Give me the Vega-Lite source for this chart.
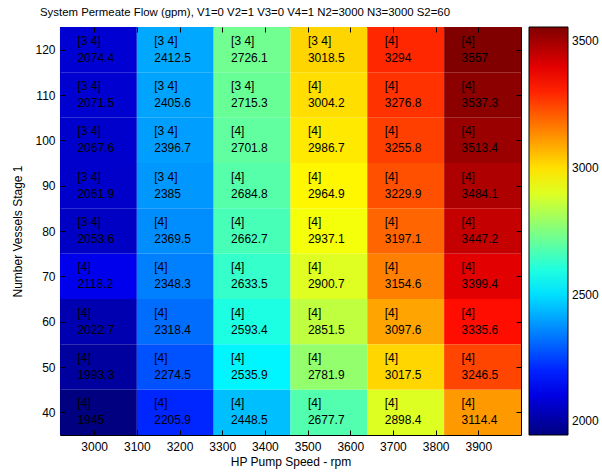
{
  "$schema": "https://vega.github.io/schema/vega-lite/v6.json",
  "autosize": "none",
  "padding": {"left": 60, "top": 27, "right": 81, "bottom": 41},
  "width": 461,
  "height": 408,
  "background": "white",
  "config": {
    "font": "Liberation Sans",
    "view": {"stroke": "black", "strokeWidth": 1},
    "axis": {"domain": false, "grid": false, "labelFontSize": 12, "labelColor": "black", "tickColor": "black", "tickWidth": 1, "tickOpacity": 1, "titleFontSize": 12, "titleFontWeight": "normal", "titleColor": "black", "tickSize": -5, "labelPadding": 11, "zindex": 2}
  },
  "title": {"text": "System Permeate Flow (gpm), V1=0 V2=1 V3=0 V4=1 N2=3000 N3=3000 S2=60", "anchor": "start", "frame": "group", "dx": -20, "fontSize": 11.4, "fontWeight": "normal", "color": "black", "offset": 8},
  "data": {"values": [
    {"speed": 3010, "vessels": 120, "config": "[3 4]", "flow": 2074.4},
    {"speed": 3190, "vessels": 120, "config": "[3 4]", "flow": 2412.5},
    {"speed": 3370, "vessels": 120, "config": "[3 4]", "flow": 2726.1},
    {"speed": 3550, "vessels": 120, "config": "[3 4]", "flow": 3018.5},
    {"speed": 3730, "vessels": 120, "config": "[4]", "flow": 3294},
    {"speed": 3910, "vessels": 120, "config": "[4]", "flow": 3557},
    {"speed": 3010, "vessels": 110, "config": "[3 4]", "flow": 2071.5},
    {"speed": 3190, "vessels": 110, "config": "[3 4]", "flow": 2405.6},
    {"speed": 3370, "vessels": 110, "config": "[3 4]", "flow": 2715.3},
    {"speed": 3550, "vessels": 110, "config": "[4]", "flow": 3004.2},
    {"speed": 3730, "vessels": 110, "config": "[4]", "flow": 3276.8},
    {"speed": 3910, "vessels": 110, "config": "[4]", "flow": 3537.3},
    {"speed": 3010, "vessels": 100, "config": "[3 4]", "flow": 2067.6},
    {"speed": 3190, "vessels": 100, "config": "[3 4]", "flow": 2396.7},
    {"speed": 3370, "vessels": 100, "config": "[4]", "flow": 2701.8},
    {"speed": 3550, "vessels": 100, "config": "[4]", "flow": 2986.7},
    {"speed": 3730, "vessels": 100, "config": "[4]", "flow": 3255.8},
    {"speed": 3910, "vessels": 100, "config": "[4]", "flow": 3513.4},
    {"speed": 3010, "vessels": 90, "config": "[3 4]", "flow": 2061.9},
    {"speed": 3190, "vessels": 90, "config": "[3 4]", "flow": 2385},
    {"speed": 3370, "vessels": 90, "config": "[4]", "flow": 2684.8},
    {"speed": 3550, "vessels": 90, "config": "[4]", "flow": 2964.9},
    {"speed": 3730, "vessels": 90, "config": "[4]", "flow": 3229.9},
    {"speed": 3910, "vessels": 90, "config": "[4]", "flow": 3484.1},
    {"speed": 3010, "vessels": 80, "config": "[3 4]", "flow": 2053.6},
    {"speed": 3190, "vessels": 80, "config": "[4]", "flow": 2369.5},
    {"speed": 3370, "vessels": 80, "config": "[4]", "flow": 2662.7},
    {"speed": 3550, "vessels": 80, "config": "[4]", "flow": 2937.1},
    {"speed": 3730, "vessels": 80, "config": "[4]", "flow": 3197.1},
    {"speed": 3910, "vessels": 80, "config": "[4]", "flow": 3447.2},
    {"speed": 3010, "vessels": 70, "config": "[4]", "flow": 2118.2},
    {"speed": 3190, "vessels": 70, "config": "[4]", "flow": 2348.3},
    {"speed": 3370, "vessels": 70, "config": "[4]", "flow": 2633.5},
    {"speed": 3550, "vessels": 70, "config": "[4]", "flow": 2900.7},
    {"speed": 3730, "vessels": 70, "config": "[4]", "flow": 3154.6},
    {"speed": 3910, "vessels": 70, "config": "[4]", "flow": 3399.4},
    {"speed": 3010, "vessels": 60, "config": "[4]", "flow": 2022.7},
    {"speed": 3190, "vessels": 60, "config": "[4]", "flow": 2318.4},
    {"speed": 3370, "vessels": 60, "config": "[4]", "flow": 2593.4},
    {"speed": 3550, "vessels": 60, "config": "[4]", "flow": 2851.5},
    {"speed": 3730, "vessels": 60, "config": "[4]", "flow": 3097.6},
    {"speed": 3910, "vessels": 60, "config": "[4]", "flow": 3335.6},
    {"speed": 3010, "vessels": 50, "config": "[4]", "flow": 1993.3},
    {"speed": 3190, "vessels": 50, "config": "[4]", "flow": 2274.5},
    {"speed": 3370, "vessels": 50, "config": "[4]", "flow": 2535.9},
    {"speed": 3550, "vessels": 50, "config": "[4]", "flow": 2781.9},
    {"speed": 3730, "vessels": 50, "config": "[4]", "flow": 3017.5},
    {"speed": 3910, "vessels": 50, "config": "[4]", "flow": 3246.5},
    {"speed": 3010, "vessels": 40, "config": "[4]", "flow": 1945},
    {"speed": 3190, "vessels": 40, "config": "[4]", "flow": 2205.9},
    {"speed": 3370, "vessels": 40, "config": "[4]", "flow": 2448.5},
    {"speed": 3550, "vessels": 40, "config": "[4]", "flow": 2677.7},
    {"speed": 3730, "vessels": 40, "config": "[4]", "flow": 2898.4},
    {"speed": 3910, "vessels": 40, "config": "[4]", "flow": 3114.4}
  ]},
  "resolve": {"axis": {"x": "independent", "y": "independent"}},
  "layer": [
    {
      "mark": {"type": "rect", "width": 76.9, "height": 45.4},
      "encoding": {
        "x": {"field": "speed", "type": "quantitative", "scale": {"domain": [2920, 4000], "nice": false, "zero": false},
              "axis": {"orient": "bottom", "zindex": 2, "values": [3000, 3100, 3200, 3300, 3400, 3500, 3600, 3700, 3800, 3900], "format": "d", "title": "HP Pump Speed - rpm", "titlePadding": 4}},
        "y": {"field": "vessels", "type": "quantitative", "scale": {"domain": [35, 125], "nice": false, "zero": false},
              "axis": {"orient": "left", "zindex": 2, "values": [40, 50, 60, 70, 80, 90, 100, 110, 120], "title": "Number Vessels Stage 1", "titlePadding": 10, "labelPadding": 10}},
        "color": {"field": "flow", "type": "quantitative",
                  "scale": {"domain": [1945, 3557], "range": ["#000080", "#0000ff", "#0080ff", "#00ffff", "#80ff80", "#ffff00", "#ff8000", "#ff0000", "#800000"], "interpolate": "rgb"},
                  "legend": {"orient": "none", "legendX": 469, "legendY": 0, "direction": "vertical", "gradientLength": 408, "gradientThickness": 39, "title": null, "values": [2000, 2500, 3000, 3500], "format": "d", "labelFontSize": 12, "labelColor": "black", "labelOffset": 4, "gradientStrokeColor": "black", "gradientStrokeWidth": 1}}
      }
    },
    {
      "mark": {"type": "text", "align": "left", "baseline": "middle", "dx": -21, "dy": -9, "fontSize": 12, "color": "black"},
      "encoding": {
        "x": {"field": "speed", "type": "quantitative", "axis": {"orient": "top", "zindex": 2, "values": [3000, 3100, 3200, 3300, 3400, 3500, 3600, 3700, 3800, 3900], "labels": false, "title": null}},
        "y": {"field": "vessels", "type": "quantitative", "axis": {"orient": "right", "zindex": 2, "values": [40, 50, 60, 70, 80, 90, 100, 110, 120], "labels": false, "title": null}},
        "text": {"field": "config"}
      }
    },
    {
      "mark": {"type": "text", "align": "left", "baseline": "middle", "dx": -21, "dy": 8, "fontSize": 12, "color": "black"},
      "encoding": {
        "x": {"field": "speed", "type": "quantitative", "axis": null},
        "y": {"field": "vessels", "type": "quantitative", "axis": null},
        "text": {"field": "flow", "type": "quantitative", "format": ".6~g"}
      }
    }
  ]
}
